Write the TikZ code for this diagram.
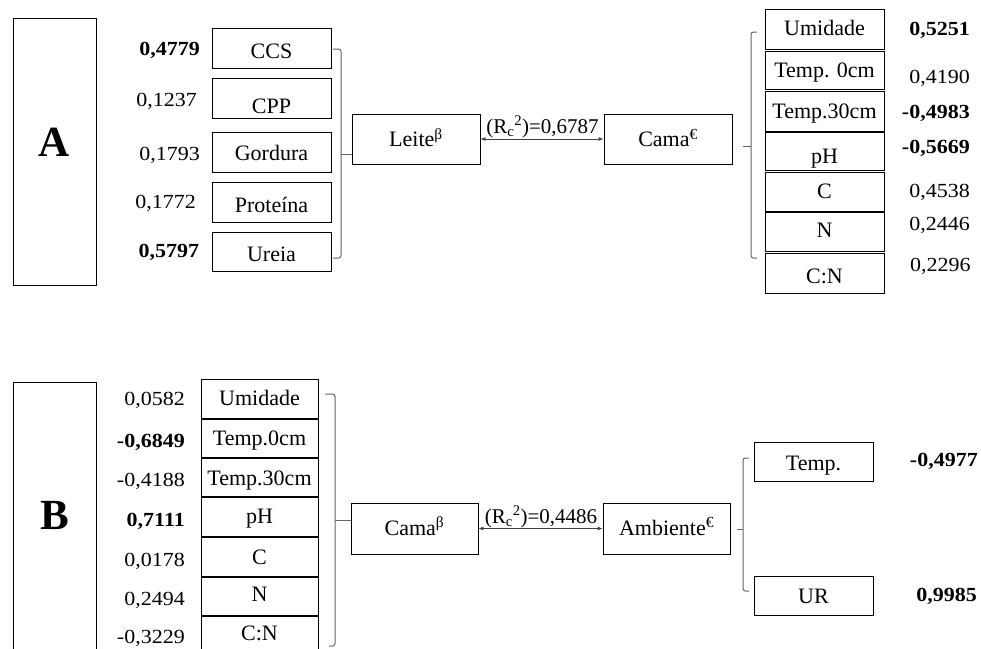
\documentclass[tikz,border=0pt]{standalone}
\usepackage{fontspec}
\setmainfont{Liberation Serif}
\newfontfamily\valfont[FakeStretch=1.1]{Liberation Serif}
\usetikzlibrary{arrows.meta}
\begin{document}
\begin{tikzpicture}[x=1pt,y=-1pt,
  box/.style={draw=black, line width=0.8pt, inner sep=0pt, font=\fontsize{22}{24}\selectfont, text height=15pt, text depth=0pt},
  wA/.style={box, minimum width=119pt},
  wB/.style={box, minimum width=117pt},
  mid/.style={box, minimum width=128pt, minimum height=50pt},
  panel/.style={draw=black, line width=0.8pt, inner sep=0pt, minimum width=83pt, font=\fontsize{43}{45}\selectfont\bfseries, text depth=0pt},
  val/.style={anchor=base east, inner sep=0pt, font=\valfont\fontsize{20}{22}\selectfont},
  bval/.style={anchor=base east, inner sep=0pt, font=\valfont\bfseries\fontsize{20}{22}\selectfont},
  rlab/.style={anchor=base, inner sep=0pt, font=\fontsize{21}{23}\selectfont},
  brk/.style={draw=black!60, line width=1pt, rounded corners=2.5pt},
  tick/.style={draw=black!60, line width=1pt},
  arr/.style={draw=black!75, line width=0.8pt, {Latex[length=5pt,width=4pt]}-{Latex[length=5pt,width=4pt]}}
]
\useasboundingbox (0,0) rectangle (981,648);

% ---------------- Panel A ----------------
\node[panel, minimum height=267pt, text height=10.4pt] (panA) at (54.5,151.5) {A};

\node[wA, minimum height=40pt, text height=20pt] (ccs) at (271.5,48) {CCS};
\node[wA, minimum height=40pt, text height=30pt] (cpp) at (271.5,98) {CPP};
\node[wA, minimum height=40pt, text height=16pt] (gord) at (271.5,152) {Gordura};
\node[wA, minimum height=40pt, text height=20pt] (prot) at (271.5,202) {Proteína};
\node[wA, minimum height=39pt, text height=20pt] (ureia) at (271.5,251.5) {Ureia};

\node[bval] (v1) at (200,55) {0,4779};
\node[val] (v2) at (197,106.7) {0,1237};
\node[val] (v3) at (200,160) {0,1793};
\node[val] (v4) at (196,208.3) {0,1772};
\node[bval] (v5) at (199.3,257.3) {0,5797};

\node[mid, text height=15.4pt] (leite) at (416,139) {Leite\textsuperscript{β}};
\node[mid, text height=15.4pt] (camaA) at (668,139) {Cama\textsuperscript{€}};
\draw[arr] (leite.east) -- (camaA.west);
\node[rlab] (rA) at (542.5,133) {(R\textsubscript{c}\textsuperscript{2})=0,6787};

\draw[brk] (333,49) -- (341,49) -- (341,258) -- (333,258);
\draw[tick] (341,154) -- (leite.west |- 0,154);

\node[wA, minimum height=40pt, text height=12pt] (umA) at (824.5,29) {Umidade};
\node[wA, minimum height=38pt, text height=15pt] (t0A) at (824.5,70) {Temp. 0cm};
\node[wA, minimum height=40pt, text height=14pt] (t30A) at (824.5,111) {Temp.30cm};
\node[wA, minimum height=38pt, text height=24pt] (phA) at (824.5,151) {pH};
\node[wA, minimum height=39pt, text height=13pt] (cA) at (824.5,191.5) {C};
\node[wA, minimum height=39pt, text height=11pt] (nA) at (824.5,231.5) {N};
\node[wA, minimum height=40pt, text height=20pt] (cnA) at (824.5,273) {C:N};

\node[bval] (w1) at (970,35) {0,5251};
\node[val] (w2) at (970,83.3) {0,4190};
\node[bval] (w3) at (970,118.3) {-0,4983};
\node[bval] (w4) at (970,153.3) {-0,5669};
\node[val] (w5) at (970,197.3) {0,4538};
\node[val] (w6) at (970,230.7) {0,2446};
\node[val] (w7) at (970.7,271.7) {0,2296};

\draw[brk] (757,32) -- (751,32) -- (751,258) -- (757,258);
\coordinate (tA) at (743,146);
\draw[tick] (751,146) -- (tA);

% ---------------- Panel B ----------------
\node[panel, minimum height=270pt, text height=24.6pt] (panB) at (54.5,517) {B};

\node[wB, minimum height=39pt, text height=13pt] (umB) at (259.5,398.5) {Umidade};
\node[wB, minimum height=38pt, text height=14pt] (t0B) at (259.5,438) {Temp.0cm};
\node[wB, minimum height=38pt, text height=16pt] (t30B) at (259.5,477) {Temp.30cm};
\node[wB, minimum height=39pt, text height=13.6pt] (phB) at (259.5,516.5) {pH};
\node[wB, minimum height=39pt, text height=15pt] (cB) at (259.5,556.5) {C};
\node[wB, minimum height=38pt, text height=11.4pt] (nB) at (259.5,596) {N};
\node[wB, minimum height=40pt, text height=8pt] (cnB) at (259.5,636) {C:N};

\node[val] (u1) at (185,405) {0,0582};
\node[bval] (u2) at (185,447.3) {-0,6849};
\node[val] (u3) at (185,486.7) {-0,4188};
\node[bval] (u4) at (185,526.7) {0,7111};
\node[val] (u5) at (185,566.7) {0,0178};
\node[val] (u6) at (185,605) {0,2494};
\node[val] (u7) at (185,643.3) {-0,3229};

\draw[brk] (325,394) -- (335,394) -- (335,646) -- (329,646);

\node[box, minimum width=127pt, minimum height=51pt, text height=13pt] (camaB) at (414.5,528.5) {Cama\textsuperscript{β}};
\node[box, minimum width=127pt, minimum height=51pt, text height=13pt] (amb) at (666.5,528.5) {Ambiente\textsuperscript{€}};
\draw[tick] (335,520) -- (camaB.west |- 0,520);
\draw[arr] (camaB.east) -- (amb.west);
\node[rlab] (rB) at (541,523.3) {(R\textsubscript{c}\textsuperscript{2})=0,4486};

\node[wA, minimum height=39pt, text height=17pt] (tempB) at (813.5,461.5) {Temp.};
\node[wA, minimum height=39pt, text height=15pt] (urB) at (813.5,595.5) {UR};

\node[bval] (x1) at (978,466.7) {-0,4977};
\node[bval] (x2) at (977,601.7) {0,9985};

\draw[brk] (749,458) -- (743,458) -- (743,591) -- (749,591);
\coordinate (tB) at (737,529);
\draw[tick] (743,529) -- (tB);
\end{tikzpicture}
\end{document}
